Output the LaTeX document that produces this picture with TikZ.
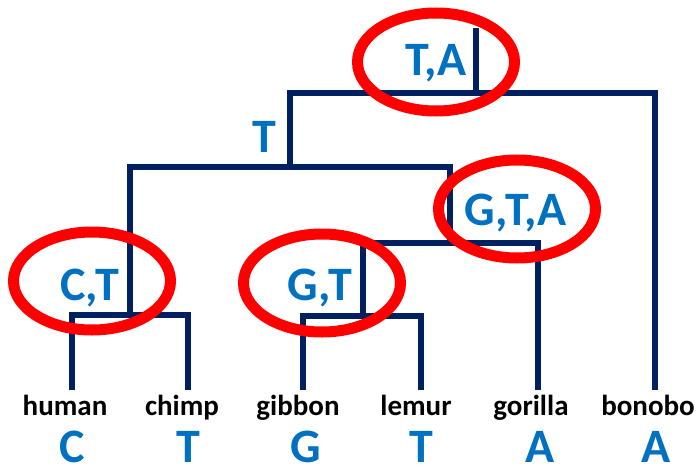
\documentclass[tikz,border=0pt]{standalone}
\usepackage{fontspec}
\setmainfont{Carlito}
\begin{document}
\definecolor{treenavy}{HTML}{002060}
\definecolor{basecol}{HTML}{0070C0}
\definecolor{ringred}{HTML}{FF0000}
\begin{tikzpicture}[x=1pt,y=-1pt,
  branch/.style={draw=treenavy,line width=6.5pt},
  ring/.style={draw=ringred,line width=11pt},
  base/.style={text=basecol,font=\bfseries\fontsize{48}{48}\selectfont,inner sep=0pt},
  taxon/.style={text=black,font=\bfseries\fontsize{29}{29}\selectfont,inner sep=0pt,anchor=base}]
\useasboundingbox (0,0) rectangle (698,468);
% tree junctions and leaf tips
\coordinate (top) at (476,28);
\coordinate (r) at (476,93);
\coordinate (a) at (290,167);
\coordinate (ct) at (130,315);
\coordinate (gta) at (450,243);
\coordinate (gt) at (363,316);
\coordinate (human) at (72,390);
\coordinate (chimp) at (188,390);
\coordinate (gibbon) at (303,390);
\coordinate (lemur) at (421,390);
\coordinate (gorilla) at (538,390);
\coordinate (bonobo) at (655,390);
% branches
\draw[branch] (top) -- (r);
\draw[branch] (r) -| (a);
\draw[branch] (r) -| (bonobo);
\draw[branch] (a) -| (ct);
\draw[branch] (a) -| (gta);
\draw[branch] (ct) -| (human);
\draw[branch] (ct) -| (chimp);
\draw[branch] (gta) -| (gt);
\draw[branch] (gta) -| (gorilla);
\draw[branch] (gt) -| (gibbon);
\draw[branch] (gt) -| (lemur);
% inferred ancestral states
\node[base] (lTA) at (436,63) {T,A};
\node[base] (lT) at (264,137) {T};
\node[base] (lGTA) at (516,213) {G,T,A};
\node[base] (lCT) at (90,288) {C,T};
\node[base] (lGT) at (320,288) {G,T};
% rings around ambiguous states
\draw[ring] (436,62) ellipse [x radius=78.5, y radius=49];
\draw[ring] (517,209) ellipse [x radius=78.5, y radius=49];
\draw[ring] (92,281) ellipse [x radius=78.5, y radius=49];
\draw[ring] (322,283) ellipse [x radius=78.5, y radius=49];
% taxa
\node[taxon] (thuman) at (65,415) {human};
\node[taxon] (tchimp) at (182,415) {chimp};
\node[taxon] (tgibbon) at (298,415) {gibbon};
\node[taxon] (tlemur) at (416,415) {lemur};
\node[taxon] (tgorilla) at (531,415) {gorilla};
\node[taxon] (tbonobo) at (648,415) {bonobo};
% observed states
\node[base] (bhuman) at (72,447) {C};
\node[base] (bchimp) at (188,447) {T};
\node[base] (bgibbon) at (306,447) {G};
\node[base] (blemur) at (421,447) {T};
\node[base] (bgorilla) at (540,447) {A};
\node[base] (bbonobo) at (656,447) {A};
\end{tikzpicture}
\end{document}
